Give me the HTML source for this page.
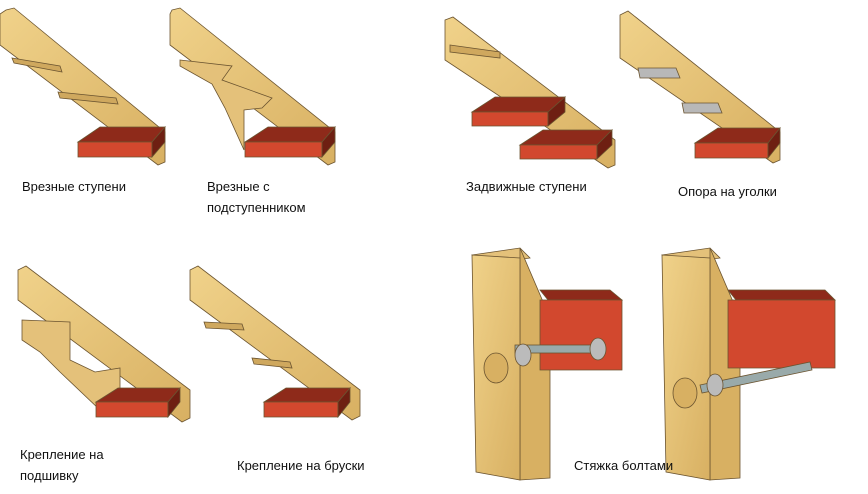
<!DOCTYPE html>
<html><head><meta charset="utf-8"><style>
html,body{margin:0;padding:0;background:#fff;}
svg{display:block}
text{font-family:"Liberation Sans",sans-serif;font-size:13px;fill:#111}
</style></head><body>
<svg width="868" height="494" viewBox="0 0 868 494" xmlns="http://www.w3.org/2000/svg">
<defs>
<linearGradient id="w" x1="0" y1="0" x2="1" y2="1">
<stop offset="0" stop-color="#f0d28a"/><stop offset="1" stop-color="#d8b062"/></linearGradient>
</defs>
<g stroke="#6b5430" stroke-width="0.8">
<!-- Panel 1 -->
<polygon points="6,10 14,8 165,132 165,162 158,165 0,45 0,14" fill="url(#w)"/>
<polygon points="12,58 60,66 62,72 14,63" fill="#cfa85e"/>
<polygon points="58,92 116,98 118,104 60,98" fill="#cfa85e"/>
<polygon points="78,142 100,127 165,127 152,142" fill="#8e2a1a"/>
<polygon points="78,142 152,142 152,157 78,157" fill="#d2482e"/>
<polygon points="152,142 165,127 165,142 152,157" fill="#6e1f12"/>
<!-- Panel 2 -->
<polygon points="172,10 180,8 335,132 335,162 328,165 170,45 170,14" fill="url(#w)"/>
<polygon points="180,60 232,66 222,80 272,98 262,108 244,110 244,150 225,108 212,84 180,66" fill="#e4c17a"/>
<polygon points="245,142 268,127 335,127 322,142" fill="#8e2a1a"/>
<polygon points="245,142 322,142 322,157 245,157" fill="#d2482e"/>
<polygon points="322,142 335,127 335,142 322,157" fill="#6e1f12"/>
<!-- Panel 3 -->
<polygon points="445,20 453,17 615,140 615,165 608,168 445,60" fill="url(#w)"/>
<polygon points="450,45 500,52 500,58 450,52" fill="#cfa85e"/>
<polygon points="472,112 495,97 565,97 548,112" fill="#8e2a1a"/>
<polygon points="472,112 548,112 548,126 472,126" fill="#d2482e"/>
<polygon points="548,112 565,97 565,112 548,126" fill="#6e1f12"/>
<polygon points="520,145 543,130 612,130 597,145" fill="#8e2a1a"/>
<polygon points="520,145 597,145 597,159 520,159" fill="#d2482e"/>
<polygon points="597,145 612,130 612,145 597,159" fill="#6e1f12"/>
<!-- Panel 4 -->
<polygon points="620,15 628,11 780,132 780,160 773,163 620,58" fill="url(#w)"/>
<polygon points="638,68 676,68 680,78 640,78" fill="#b8b8b8"/>
<polygon points="682,103 718,103 722,113 684,113" fill="#b8b8b8"/>
<polygon points="695,143 718,128 780,128 768,143" fill="#8e2a1a"/>
<polygon points="695,143 768,143 768,158 695,158" fill="#d2482e"/>
<polygon points="768,143 780,128 780,143 768,158" fill="#6e1f12"/>
<!-- Panel 5 -->
<polygon points="18,270 26,266 190,390 190,418 182,422 18,300" fill="url(#w)"/>
<polygon points="22,320 70,322 70,360 95,372 120,368 120,398 100,410 60,372 40,352 22,340" fill="#e4c17a"/>
<polygon points="96,402 118,388 180,388 168,402" fill="#8e2a1a"/>
<polygon points="96,402 168,402 168,417 96,417" fill="#d2482e"/>
<polygon points="168,402 180,388 180,402 168,417" fill="#6e1f12"/>
<!-- Panel 6 -->
<polygon points="190,270 198,266 360,390 360,416 352,420 190,300" fill="url(#w)"/>
<polygon points="204,322 242,324 244,330 206,328" fill="#cfa85e"/>
<polygon points="252,358 290,362 292,368 254,364" fill="#cfa85e"/>
<polygon points="264,402 286,388 350,388 338,402" fill="#8e2a1a"/>
<polygon points="264,402 338,402 338,417 264,417" fill="#d2482e"/>
<polygon points="338,402 350,388 350,402 338,417" fill="#6e1f12"/>
<!-- Panel 7 bolts -->
<polygon points="472,255 520,248 530,258 482,265" fill="#e4c17a"/>
<polygon points="520,248 550,318 550,478 520,480" fill="#d8b062"/>
<polygon points="472,255 520,258 520,480 476,472" fill="url(#w)"/>
<polygon points="540,290 610,290 622,300 548,300" fill="#8e2a1a"/>
<polygon points="540,300 622,300 622,370 540,370" fill="#d2482e"/>
<rect x="515" y="345" width="90" height="8" fill="#9aa" />
<ellipse cx="496" cy="368" rx="12" ry="15" fill="#d8b062"/>
<ellipse cx="523" cy="355" rx="8" ry="11" fill="#bbb"/>
<ellipse cx="598" cy="349" rx="8" ry="11" fill="#bbb"/>
<!-- Panel 8 -->
<polygon points="662,255 710,248 720,258 672,265" fill="#e4c17a"/>
<polygon points="710,248 740,318 740,478 710,480" fill="#d8b062"/>
<polygon points="662,255 710,258 710,480 666,472" fill="url(#w)"/>
<polygon points="728,290 825,290 835,300 736,300" fill="#8e2a1a"/>
<polygon points="728,300 835,300 835,368 728,368" fill="#d2482e"/>
<polygon points="700,385 810,362 812,370 702,393" fill="#9aa"/>
<ellipse cx="685" cy="393" rx="12" ry="15" fill="#d8b062"/>
<ellipse cx="715" cy="385" rx="8" ry="11" fill="#bbb"/>
</g>
<text x="22" y="191">Врезные ступени</text>
<text x="207" y="191">Врезные с</text>
<text x="207" y="212">подступенником</text>
<text x="466" y="191">Задвижные ступени</text>
<text x="678" y="196">Опора на уголки</text>
<text x="20" y="459">Крепление на</text>
<text x="20" y="480">подшивку</text>
<text x="237" y="470">Крепление на бруски</text>
<text x="574" y="470">Стяжка болтами</text>
</svg>
</body></html>
